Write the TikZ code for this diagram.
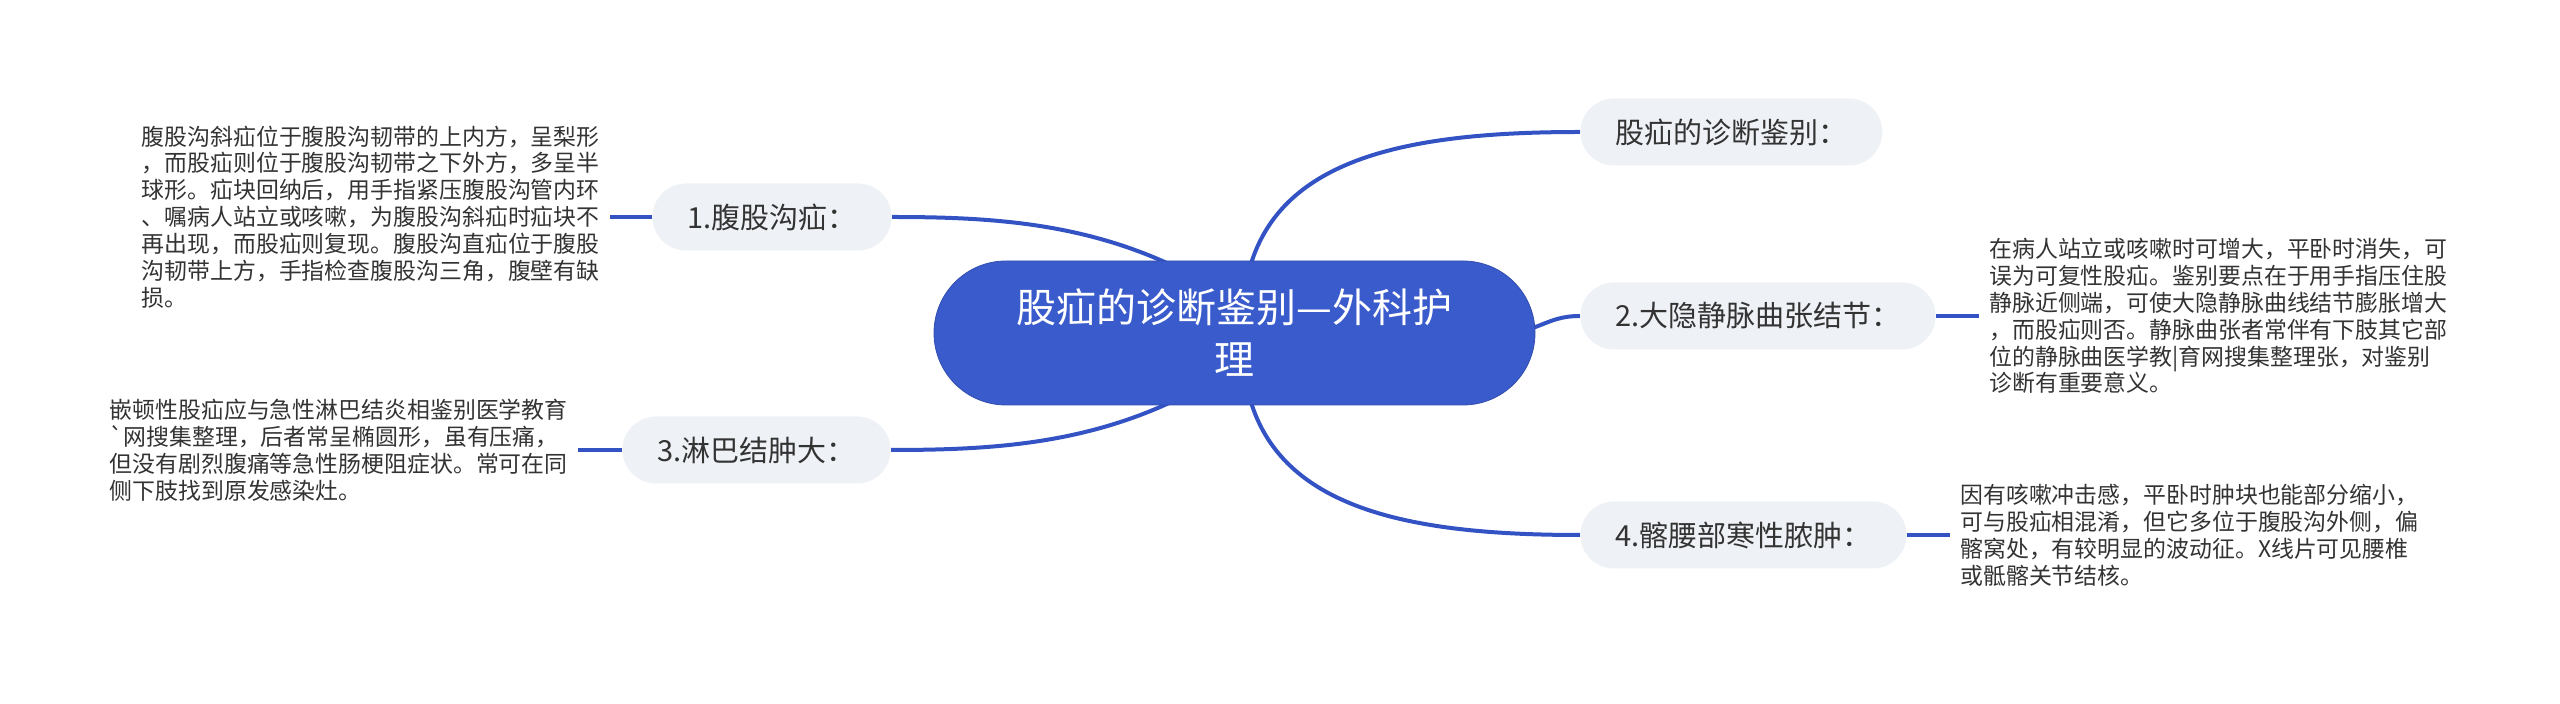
\documentclass[tikz,border=0pt]{standalone}
\usepackage{fontspec}
\usepackage{tikz}
\usepackage{xcolor}
\usetikzlibrary{positioning,backgrounds}
\newfontfamily\cjk{Noto Sans CJK SC}
\definecolor{hubblue}{HTML}{3A5BCB}
\definecolor{linkblue}{HTML}{3352C4}
\definecolor{branchgray}{HTML}{EEF1F5}
\definecolor{inktext}{HTML}{333333}

\begin{document}
\begin{tikzpicture}[x=0.5pt,y=-0.5pt,
  every node/.style={font=\cjk},
  hub/.style={fill=hubblue,draw=hubblue!85!black,line width=0.4pt,text=white,
    rounded corners=36pt,minimum width=300.5pt,minimum height=72pt,align=center,
    font=\cjk\fontsize{20pt}{26pt}\selectfont},
  branch/.style={fill=branchgray,text=inktext,rounded corners=16.75pt,
    minimum height=33.5pt,inner xsep=17.5pt,font=\cjk\fontsize{14.5pt}{17pt}\selectfont},
  leaf/.style={text=inktext,align=left,inner sep=5pt,
    font=\cjk\fontsize{11.45pt}{13.45pt}\selectfont},
  link/.style={draw=linkblue,line width=2pt}]
\useasboundingbox (0,0) rectangle (2560,704);
\node[hub] (hub) at (1234.5,333) {股疝的诊断鉴别—外科护\\理};
\node[branch,anchor=west] (b0) at (1580,132) {股疝的诊断鉴别：};
\node[branch,anchor=west] (b2) at (1580,316) {2.大隐静脉曲张结节：};
\node[branch,anchor=west] (b4) at (1580,535) {4.髂腰部寒性脓肿：};
\node[branch,anchor=east] (b1) at (892,217) {1.腹股沟疝：};
\node[branch,anchor=east] (b3) at (891,450) {3.淋巴结肿大：};
\node[leaf,left=21pt of b1] (l1) {腹股沟斜疝位于腹股沟韧带的上内方，呈梨形\\
，而股疝则位于腹股沟韧带之下外方，多呈半\\
球形。疝块回纳后，用手指紧压腹股沟管内环\\
、嘱病人站立或咳嗽，为腹股沟斜疝时疝块不\\
再出现，而股疝则复现。腹股沟直疝位于腹股\\
沟韧带上方，手指检查腹股沟三角，腹壁有缺\\
损。};
\node[leaf,left=22pt of b3] (l3) {嵌顿性股疝应与急性淋巴结炎相鉴别医学教育\\
\textasciigrave 网搜集整理，后者常呈椭圆形，虽有压痛，\\
但没有剧烈腹痛等急性肠梗阻症状。常可在同\\
侧下肢找到原发感染灶。};
\node[leaf,right=21.5pt of b2] (l2) {在病人站立或咳嗽时可增大，平卧时消失，可\\
误为可复性股疝。鉴别要点在于用手指压住股\\
静脉近侧端，可使大隐静脉曲线结节膨胀增大\\
，而股疝则否。静脉曲张者常伴有下肢其它部\\
位的静脉曲医学教\textbar 育网搜集整理张，对鉴别\\
诊断有重要意义。};
\node[leaf,right=21.5pt of b4] (l4) {因有咳嗽冲击感，平卧时肿块也能部分缩小，\\
可与股疝相混淆，但它多位于腹股沟外侧，偏\\
髂窝处，有较明显的波动征。X线片可见腰椎\\
或骶髂关节结核。};
% hub to branches
\coordinate (hubNE) at (1245,290);
\coordinate (hubSE) at (1245,376);
\coordinate (hubNW) at (1234,300);
\coordinate (hubSW) at (1234,367);
\coordinate (hubE) at (1500,333);
\begin{scope}[on background layer]
\draw[link] (hubNE) .. controls (1265,160) and (1400,132) .. (b0.west);
\draw[link] (hubSE) .. controls (1265,506) and (1400,535) .. (b4.west);
\draw[link] (hubE) .. controls (1540,333) and (1545,316) .. (b2.west);
\draw[link] (hubNW) .. controls (1120,225) and (1010,217) .. (b1.east);
\draw[link] (hubSW) .. controls (1120,442) and (1010,450) .. (b3.east);
\end{scope}
% branches to leaves
\draw[link] (b1.west) -- (l1.east);
\draw[link] (b3.west) -- (l3.east);
\draw[link] (b2.east) -- (l2.west);
\draw[link] (b4.east) -- (l4.west);
\end{tikzpicture}
\end{document}
